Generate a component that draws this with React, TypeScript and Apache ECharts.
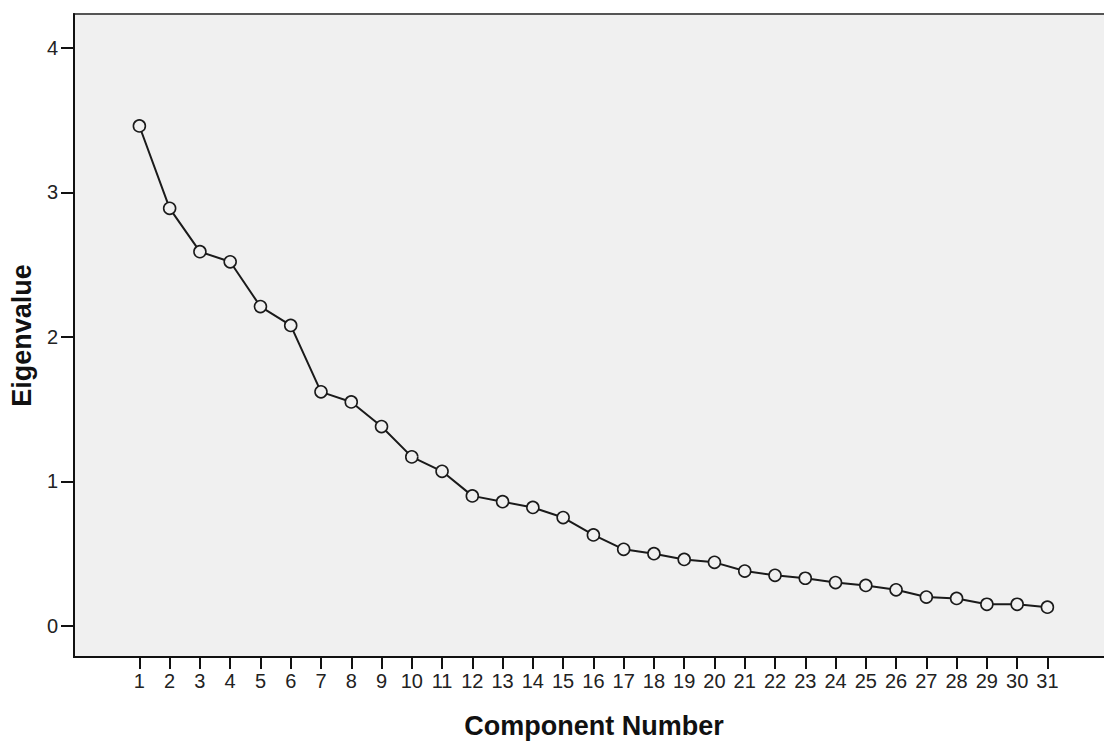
import React, { useEffect, useRef } from "react";
import * as echarts from "echarts";

const components: number[] = [
  1, 2, 3, 4, 5, 6, 7, 8, 9, 10, 11, 12, 13, 14, 15, 16,
  17, 18, 19, 20, 21, 22, 23, 24, 25, 26, 27, 28, 29, 30, 31,
];
const eigenvalues: number[] = [
  3.46, 2.89, 2.59, 2.52, 2.21, 2.08, 1.62, 1.55, 1.38, 1.17, 1.07,
  0.9, 0.86, 0.82, 0.75, 0.63, 0.53, 0.5, 0.46, 0.44, 0.38, 0.35,
  0.33, 0.3, 0.28, 0.25, 0.2, 0.19, 0.15, 0.15, 0.13,
];
const yTicks: number[] = [0, 1, 2, 3, 4];
const xTitle = "Component Number";
const yTitle = "Eigenvalue";

export default function App() {
  const ref = useRef<HTMLDivElement>(null);
  useEffect(() => {
    if (!ref.current) return;
    const chart = echarts.init(ref.current, null, { renderer: "svg" });
    const font = 'Arial, "Liberation Sans", sans-serif';
    chart.setOption({
      animation: false,
      backgroundColor: "#ffffff",
      grid: {
        left: 74,
        top: 14,
        bottom: 87,
        width: 1040,
        outerBoundsMode: "none",
        containLabel: false,
        show: true,
        backgroundColor: "#f0f0f0",
        borderColor: "#555555",
        borderWidth: 2,
      },
      xAxis: {
        type: "value",
        min: -1.16,
        max: 33.2,
        name: xTitle,
        nameLocation: "middle",
        nameGap: 55,
        nameTextStyle: { fontFamily: font, fontWeight: "bold", fontSize: 27, color: "#111" },
        axisLine: { show: true, onZero: false, lineStyle: { color: "#111", width: 2 } },
        axisTick: { show: true, length: 12, customValues: components, lineStyle: { color: "#111", width: 2 } },
        axisLabel: {
          customValues: components,
          margin: 14,
          fontFamily: font,
          fontSize: 20,
          color: "#222",
        },
        splitLine: { show: false },
      },
      yAxis: {
        type: "value",
        min: -0.215,
        max: 4.235,
        name: yTitle,
        nameLocation: "middle",
        nameGap: 36,
        nameTextStyle: { fontFamily: font, fontWeight: "bold", fontSize: 27, color: "#111" },
        axisLine: { show: true, onZero: false, lineStyle: { color: "#111", width: 2 } },
        axisTick: { show: true, length: 13, customValues: yTicks, lineStyle: { color: "#111", width: 2 } },
        axisLabel: {
          customValues: yTicks,
          margin: 16,
          fontFamily: font,
          fontSize: 20,
          color: "#222",
        },
        splitLine: { show: false },
      },
      series: [
        {
          type: "line",
          data: components.map((c, i) => [c, eigenvalues[i]]),
          symbol: "circle",
          symbolSize: 12,
          showSymbol: true,
          lineStyle: { color: "#1a1a1a", width: 2 },
          itemStyle: { color: "#f0f0f0", borderColor: "#1a1a1a", borderWidth: 1.6 },
        },
      ],
    });
    return () => chart.dispose();
  }, []);
  return (
    <div
      ref={ref}
      style={{ position: "fixed", left: 0, top: 0, width: 1104, height: 744 }}
    />
  );
}
